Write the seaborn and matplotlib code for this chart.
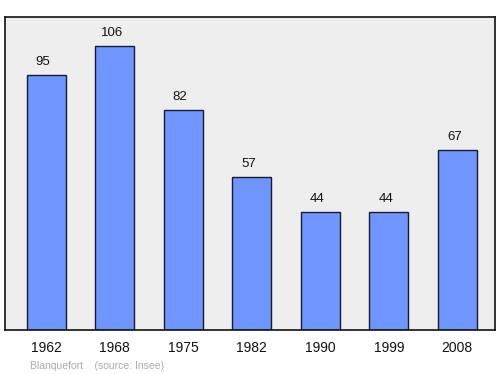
import matplotlib
matplotlib.use("Agg")
import matplotlib.pyplot as plt
import seaborn as sns
import pandas as pd

years = ["1962", "1968", "1975", "1982", "1990", "1999", "2008"]
values = [95, 106, 82, 57, 44, 44, 67]

sns.set_style("white")
plt.rcParams['font.family'] = ['Liberation Sans', 'DejaVu Sans']

df = pd.DataFrame({"year": years, "value": values})

fig = plt.figure(figsize=(5, 3.74), dpi=100)
ax = fig.add_axes([5/500, 1 - 330/374, 490/500, 313/374])
ax.set_facecolor("#eeeeee")
sns.barplot(data=df, x="year", y="value", color="#6f96ff", saturation=1,
            width=0.57, edgecolor="#1a1a2e", linewidth=1, ax=ax)
ax.set_xlim(-0.6, 6.55)
ax.set_ylim(0, 116.8)
for i, v in enumerate(values):
    ax.annotate(str(v), (i, v), xytext=(-2.2, 7.5), textcoords="offset points",
                ha="center", va="baseline", fontsize=9.5, color="#111111")
ax.set_yticks([])
ax.set_xlabel("")
ax.set_ylabel("")
ax.tick_params(axis="x", length=0, labelsize=10, pad=8, colors="#111111")
for s in ax.spines.values():
    s.set_visible(True)
    s.set_color("#111111")
    s.set_linewidth(1.2)
fig.text(30/500, 1 - 366/374, "Blanquefort    (source: Insee)", fontsize=7.5,
         color="#aaaaaa", ha="left", va="center")
fig.savefig("out.png", dpi=100)
